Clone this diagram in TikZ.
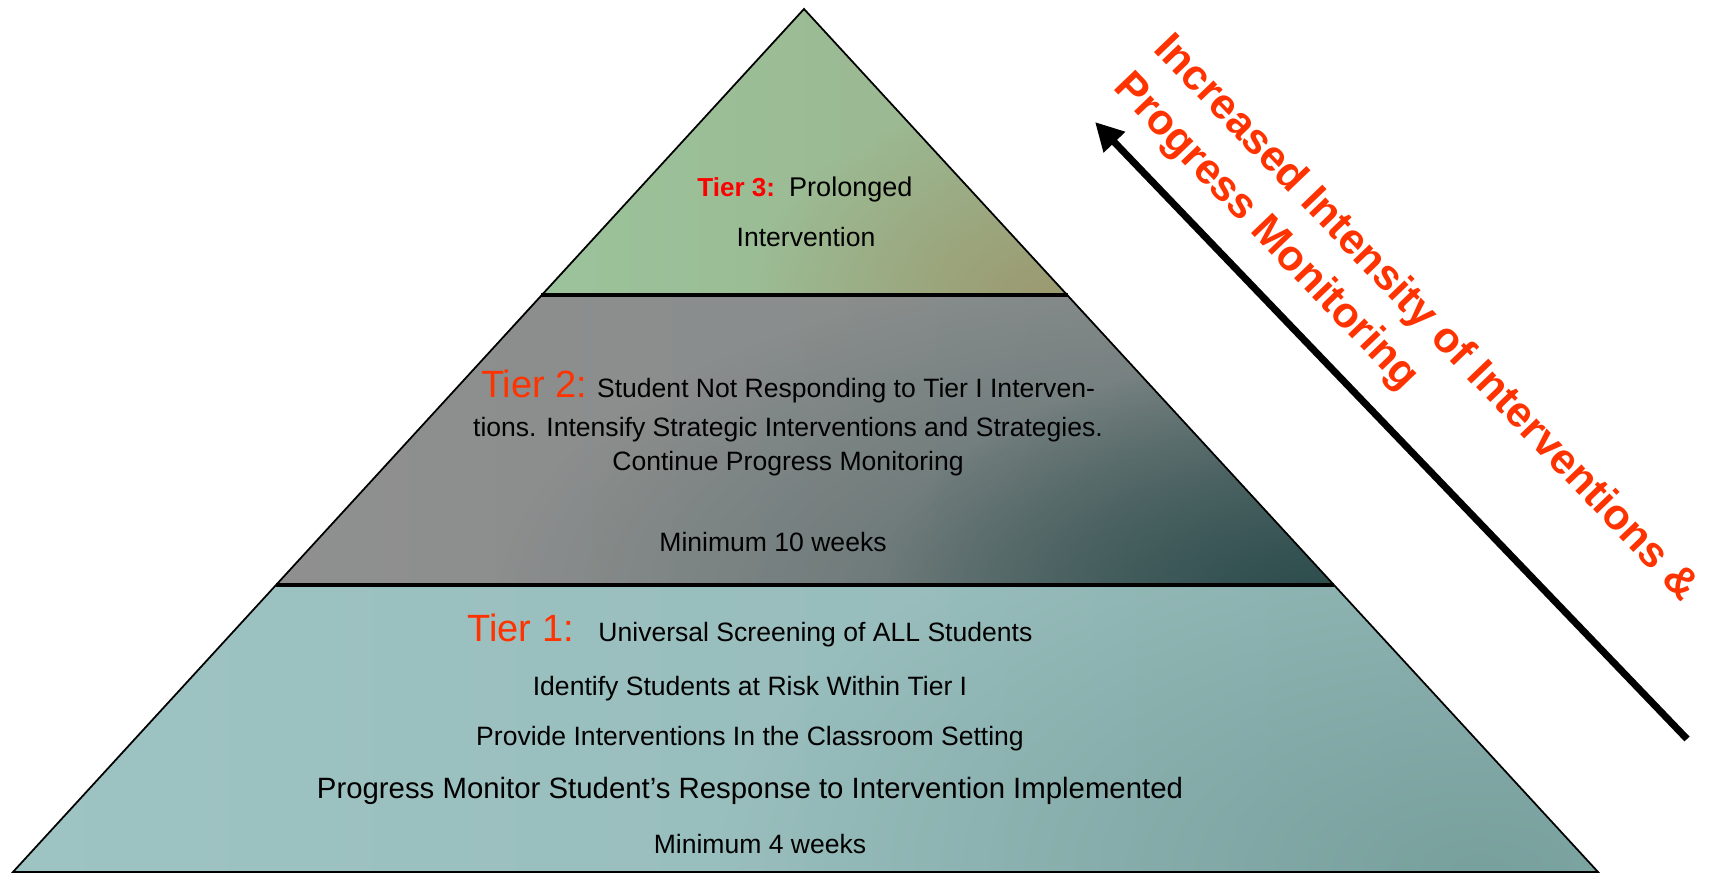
\documentclass[tikz,border=0pt]{standalone}
\usepackage{fontspec}
\setmainfont{Liberation Sans}
\usetikzlibrary{arrows.meta,fadings}

\definecolor{labelred}{HTML}{FF0000}
\definecolor{labelorange}{HTML}{FF3300}
\definecolor{greenleft}{HTML}{9BC39B}
\definecolor{greenright}{HTML}{9BB48E}
\definecolor{greenspot}{HTML}{9C9A70}
\definecolor{grayleft}{HTML}{8F8F8F}
\definecolor{grayright}{HTML}{838B8A}
\definecolor{grayspot}{HTML}{2C4C4C}
\definecolor{tealleft}{HTML}{9EC3C3}
\definecolor{tealright}{HTML}{93B8B7}
\definecolor{tealspot}{HTML}{78A09D}

\tikzfading[name=spot fade, inner color=transparent!0, outer color=transparent!100]

\newcommand{\tierlabel}[1]{{\color{labelorange}\fontsize{10.8}{12}\selectfont #1}}

\begin{document}
\begin{tikzpicture}[x=0.01cm,y=-0.01cm,
        body text/.style={anchor=base,font=\fontsize{7.55}{9}\selectfont},
        divider/.style={line width=1.2pt},
        side text/.style={text=labelorange,align=left,rotate=-46.2,
            font=\fontsize{12.2}{15.8}\selectfont\bfseries}]

        \useasboundingbox (0,0) rectangle (1709,874);

        % Define corners
        \coordinate (apex) at (804,9);
        \coordinate (t3l) at (541,295);
        \coordinate (t3r) at (1068,295);
        \coordinate (t2l) at (276,585);
        \coordinate (t2r) at (1334,585);
        \coordinate (t1l) at (13,872);
        \coordinate (t1r) at (1598,872);

        % Fill tiers
        \begin{scope}
            \clip (t3l) -- (apex) -- (t3r) -- cycle;
            \shade[left color=greenleft, right color=greenright] (t3l) rectangle (t3r |- apex);
            \fill[greenspot, path fading=spot fade] (1050,300) ellipse (300 and 200);
        \end{scope}
        \begin{scope}
            \clip (t2l) -- (t3l) -- (t3r) -- (t2r) -- cycle;
            \shade[left color=grayleft, right color=grayright] (t2l) rectangle (t2r |- t3r);
            \fill[grayspot, opacity=0.5, path fading=spot fade] (1200,600) ellipse (700 and 330);
            \fill[grayspot, path fading=spot fade] (1320,595) ellipse (440 and 240);
        \end{scope}
        \begin{scope}
            \clip (t1l) -- (t2l) -- (t2r) -- (t1r) -- cycle;
            \shade[left color=tealleft, right color=tealright] (t1l) rectangle (t1r |- t2r);
            \fill[tealspot, path fading=spot fade] (1480,870) ellipse (760 and 400);
        \end{scope}

        % Draw outline
        \draw[line width=0.5pt] (t1l) -- (apex) -- (t1r) -- cycle;
        \draw[divider] (t3l) -- (t3r);
        \draw[divider] (t2l) -- (t2r);

        % Tier 3
        \node[body text] (tierthreea) at (805,197)
            {{\color{labelred}\bfseries\fontsize{7.4}{9}\selectfont Tier 3:}\hspace{4pt}{\fontsize{7.7}{9}\selectfont Prolonged}};
        \node[body text] (tierthreeb) at (806,247) {Intervention};

        % Tier 2
        \node[body text] (tiertwoa) at (788,398)
            {\tierlabel{Tier 2:} Student Not Responding to Tier I Interven-};
        \node[body text] (tiertwob) at (788,437)
            {tions. Intensify Strategic Interventions and Strategies.};
        \node[body text] (tiertwoc) at (788,471) {Continue Progress Monitoring};
        \node[body text] (tiertwod) at (773,552) {Minimum 10 weeks};

        % Tier 1
        \node[body text] (tieronea) at (750,642)
            {\tierlabel{Tier 1:}\hspace{7pt}Universal Screening of ALL Students};
        \node[body text] (tieroneb) at (750,696) {Identify Students at Risk Within Tier I};
        \node[body text] (tieronec) at (750,746) {Provide Interventions In the Classroom Setting};
        \node[body text,font=\fontsize{8.35}{10}\selectfont] (tieroned) at (750,799)
            {Progress Monitor Student’s Response to Intervention Implemented};
        \node[body text] (tieronee) at (760,854) {Minimum 4 weeks};

        % Intensity arrow
        \coordinate (arrowtail) at (1687,739);
        \coordinate (arrowtip) at (1095,122);
        \draw[line width=2pt,-{Triangle[length=8pt,width=8pt]}] (arrowtail) -- (arrowtip);
        \node[side text] (intensity) at (1405,338)
            {Increased Intensity of Interventions \&\\Progress Monitoring};

\end{tikzpicture}
\end{document}
